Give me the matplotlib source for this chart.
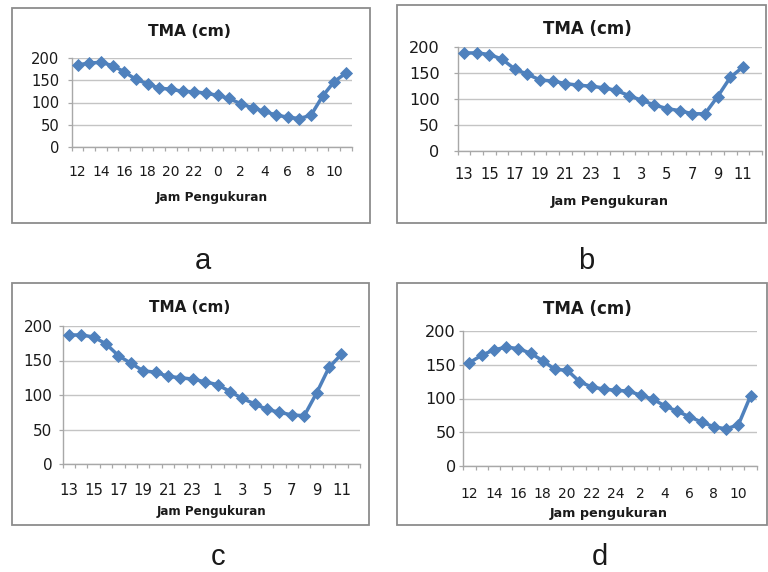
import numpy as np
import matplotlib
matplotlib.use("Agg")
import matplotlib.pyplot as plt
from matplotlib.patches import Rectangle
from matplotlib.ticker import FixedLocator

W, H = 768, 572
DPI = 100

# Hourly water level (TMA, cm) for four measurement series
hours_a = [str(h) for h in list(range(12, 24)) + list(range(0, 12))]
tma_a = [184, 189, 190, 183, 169, 152, 142, 132, 130, 125, 124, 121,
         116, 109, 97, 88, 80, 72, 67, 64, 71, 114, 147, 166]

hours_b = [str(h) for h in list(range(13, 24)) + list(range(0, 13))]
tma_b = [188, 188, 185, 176, 157, 147, 136, 134, 129, 126, 124, 121,
         116, 106, 97, 88, 81, 77, 71, 71, 104, 141, 161, np.nan]

hours_c = [str(h) for h in list(range(13, 24)) + list(range(0, 13))]
tma_c = [187, 187, 184, 174, 157, 146, 135, 133, 127, 125, 123, 119,
         115, 105, 95, 87, 79, 75, 71, 70, 103, 140, 159, np.nan]

hours_d = [str(h) for h in list(range(12, 25)) + list(range(1, 12))]
tma_d = [153, 164, 172, 176, 174, 167, 156, 143, 142, 125, 117, 114,
         112, 111, 105, 99, 89, 81, 73, 65, 58, 55, 61, 104]

y_ticks = [0, 50, 100, 150, 200]
title_text = "TMA (cm)"

LINE = "#4F81BD"
GRID = "#c4c4c4"
AXIS = "#a8a8a8"
BORDER = "#8c8c8c"
TEXT = "#1a1a1a"

panels = [
    dict(letter="a", hours=hours_a, values=tma_a, xlabel="Jam Pengukuran",
         frame=(12, 8, 370, 223), plot=(71.7, 58, 351.7, 147),
         title_xy=(190, 32), title_fs=11.2, xlabel_xy=(212, 198), xlabel_fs=8.7,
         letter_xy=(203, 261), xtick_fs=10.0, ytick_fs=10.6, xpad=13.0, ypad=5.8),
    dict(letter="b", hours=hours_b, values=tma_b, xlabel="Jam Pengukuran",
         frame=(397, 5, 766, 223), plot=(457.7, 46.7, 762, 150.7),
         title_xy=(587, 29), title_fs=12.0, xlabel_xy=(610, 202), xlabel_fs=9.2,
         letter_xy=(586, 261), xtick_fs=10.6, ytick_fs=11.6, xpad=11.5, ypad=9.9),
    dict(letter="c", hours=hours_c, values=tma_c, xlabel="Jam Pengukuran",
         frame=(12, 283, 369, 525), plot=(62.7, 326, 360, 464),
         title_xy=(190, 308), title_fs=11.0, xlabel_xy=(211, 512), xlabel_fs=8.6,
         letter_xy=(218, 557), xtick_fs=10.7, ytick_fs=11.0, xpad=13.5, ypad=4.3),
    dict(letter="d", hours=hours_d, values=tma_d, xlabel="Jam pengukuran",
         frame=(397, 283, 767, 525), plot=(463.3, 331, 756.7, 466),
         title_xy=(587, 309), title_fs=12.0, xlabel_xy=(609, 513), xlabel_fs=9.2,
         letter_xy=(600, 557), xtick_fs=10.0, ytick_fs=11.6, xpad=15.0, ypad=2.2),
]

fig = plt.figure(figsize=(W / DPI, H / DPI), dpi=DPI)
fig.patch.set_facecolor("white")


def fx(px):
    return px / W


def fy(py):
    return 1 - py / H


for p in panels:
    # outer chart frame
    l, t, r, b = p["frame"]
    fig.patches.append(Rectangle((fx(l), fy(b)), fx(r - l), (b - t) / H,
                                 transform=fig.transFigure, fill=False,
                                 edgecolor=BORDER, linewidth=1.3, zorder=0))

    l, t, r, b = p["plot"]
    ax = fig.add_axes([fx(l), fy(b), fx(r - l), (b - t) / H])
    n = len(p["hours"])
    x = np.arange(n)
    ax.plot(x, p["values"], color=LINE, linewidth=2.5, marker="D",
            markersize=6.4, markerfacecolor=LINE, markeredgecolor=LINE,
            markeredgewidth=0.6, zorder=3, clip_on=False)

    ax.set_xlim(-0.5, n - 0.5)
    ax.set_ylim(0, 200)

    # category labels every other hour, tick marks between categories
    ax.xaxis.set_major_locator(FixedLocator(list(range(0, n, 2))))
    ax.set_xticklabels([p["hours"][i] for i in range(0, n, 2)])
    ax.xaxis.set_minor_locator(FixedLocator(list(np.arange(-0.5, n, 1.0))))
    ax.tick_params(axis="x", which="major", length=0, pad=p["xpad"],
                   labelsize=p["xtick_fs"], labelcolor=TEXT)
    ax.tick_params(axis="x", which="minor", length=3.2, width=0.9,
                   color=AXIS, direction="out")

    ax.set_yticks(y_ticks)
    ax.tick_params(axis="y", which="major", length=3.2, width=0.9,
                   color=AXIS, direction="out", pad=p["ypad"],
                   labelsize=p["ytick_fs"], labelcolor=TEXT)

    ax.grid(axis="y", color=GRID, linewidth=1.0, zorder=0)
    ax.set_axisbelow(True)
    for side in ("top", "right"):
        ax.spines[side].set_visible(False)
    for side in ("left", "bottom"):
        ax.spines[side].set_color(AXIS)
        ax.spines[side].set_linewidth(1.0)

    for lab in ax.get_xticklabels() + ax.get_yticklabels():
        lab.set_family("DejaVu Sans")

    fig.text(fx(p["title_xy"][0]), fy(p["title_xy"][1]), title_text,
             ha="center", va="center", fontsize=p["title_fs"],
             fontweight="bold", color=TEXT, family="DejaVu Sans")
    fig.text(fx(p["xlabel_xy"][0]), fy(p["xlabel_xy"][1]), p["xlabel"],
             ha="center", va="center", fontsize=p["xlabel_fs"],
             fontweight="bold", color=TEXT, family="DejaVu Sans")
    fig.text(fx(p["letter_xy"][0]), fy(p["letter_xy"][1]), p["letter"],
             ha="center", va="center", fontsize=21, color=TEXT,
             family="Liberation Sans")

fig.savefig("out.png", dpi=DPI, facecolor="white")
